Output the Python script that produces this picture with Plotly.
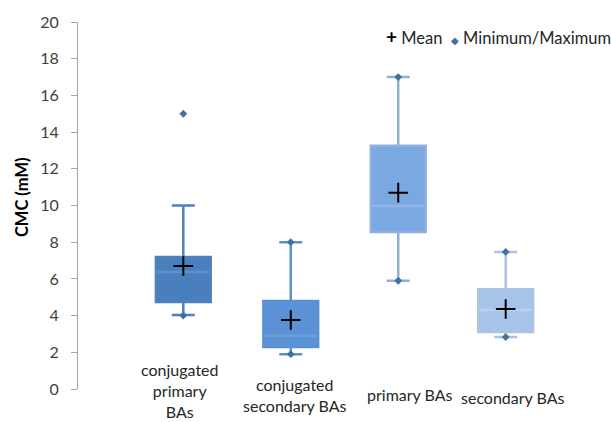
import plotly.graph_objects as go

categories = ["conjugated<br>primary<br>BAs", "conjugated<br>secondary BAs", "primary BAs", "secondary BAs"]
q1 = [4.74, 2.29, 8.55, 3.10]
median = [6.38, 2.90, 9.97, 4.30]
q3 = [7.19, 4.80, 13.25, 5.43]
lower_whisker = [4.03, 1.90, 5.90, 2.83]
upper_whisker = [10.0, 8.0, 17.0, 7.47]
mean = [6.70, 3.76, 10.70, 4.36]
minimum = [4.0, 1.9, 5.9, 2.83]
maximum = [15.0, 8.0, 17.0, 7.47]
y_ticks = [0, 2, 4, 6, 8, 10, 12, 14, 16, 18, 20]
label_y = [-0.003, -0.016, -0.016, -0.022]
label_dx = [-0.03, 0.04, 0.11, 0.07]

fills = ["#4a7fbd", "#5b92d5", "#7aa8e0", "#a7c3ea"]
lines = ["#4f81bf", "#5c91d0", "#8eb0dd", "#aac4e6"]
medcol = ["#5d8fcc", "#6c9fdc", "#8fb6e6", "#b9d0ef"]
marker_col = "#41719c"

BW = 0.51
fig = go.Figure()
for i in range(len(categories)):
    fig.add_trace(go.Box(
        x=[i], q1=[q1[i]], median=[median[i]], q3=[q3[i]],
        lowerfence=[lower_whisker[i]], upperfence=[upper_whisker[i]],
        width=BW, whiskerwidth=0.42, fillcolor=fills[i],
        line=dict(color=lines[i], width=2.5), boxpoints=False,
        showlegend=False, hoverinfo="skip"))
    fig.add_trace(go.Scatter(
        x=[i - BW / 2 + 0.01, i + BW / 2 - 0.01], y=[median[i], median[i]],
        mode="lines", line=dict(color=medcol[i], width=2.5),
        showlegend=False, hoverinfo="skip"))

xs = list(range(len(categories)))
fig.add_trace(go.Scatter(
    x=xs + xs, y=minimum + maximum, mode="markers",
    marker=dict(symbol="diamond", size=6, color=marker_col),
    showlegend=False, hoverinfo="skip"))
fig.add_trace(go.Scatter(
    x=xs, y=mean, mode="markers",
    marker=dict(symbol="cross-thin", size=14, line=dict(color="black", width=2)),
    showlegend=False, hoverinfo="skip"))

for i, c in enumerate(categories):
    fig.add_annotation(x=i + label_dx[i], y=label_y[i], xref="x", yref="paper", text=c,
                       showarrow=False, yanchor="middle", xanchor="center",
                       font=dict(size=16, color="#262626", family="Lato"))

fig.add_annotation(x=0.574, y=0.96, xref="paper", yref="paper", xanchor="left",
                   yanchor="middle", showarrow=False,
                   text="<b style='font-size:19px;color:#000'>+</b> Mean  "
                        "<span style='color:#41719c;font-size:10px'>◆</span> Minimum/Maximum",
                   font=dict(size=16.5, color="#262626", family="Lato"))

fig.add_annotation(x=-0.105, y=0.523, xref="paper", yref="paper", xanchor="center",
                   yanchor="middle", showarrow=False, textangle=-90,
                   text="<b>CMC (mM)</b>", font=dict(size=16.5, color="#000000", family="Lato"))

fig.update_layout(
    width=611, height=422, paper_bgcolor="white", plot_bgcolor="white",
    margin=dict(l=78, r=0, t=22, b=33),
    font=dict(family="Lato", size=14, color="#404040"),
    xaxis=dict(range=[-0.98, 3.98], showticklabels=False, showgrid=False,
               zeroline=False, showline=False, ticks="", automargin=False),
    yaxis=dict(range=[0, 20], tickvals=y_ticks, showgrid=False, zeroline=False,
               showline=True, linecolor="#a6a6a6", linewidth=1, ticks="outside",
               ticklen=6, tickcolor="#a6a6a6", ticklabelstandoff=9, automargin=False,
               tickfont=dict(size=16, color="#404040")),
)
fig.write_html("out.html", config={"displayModeBar": False},
               post_script="document.body.style.margin='0';document.body.style.overflow='hidden';")
